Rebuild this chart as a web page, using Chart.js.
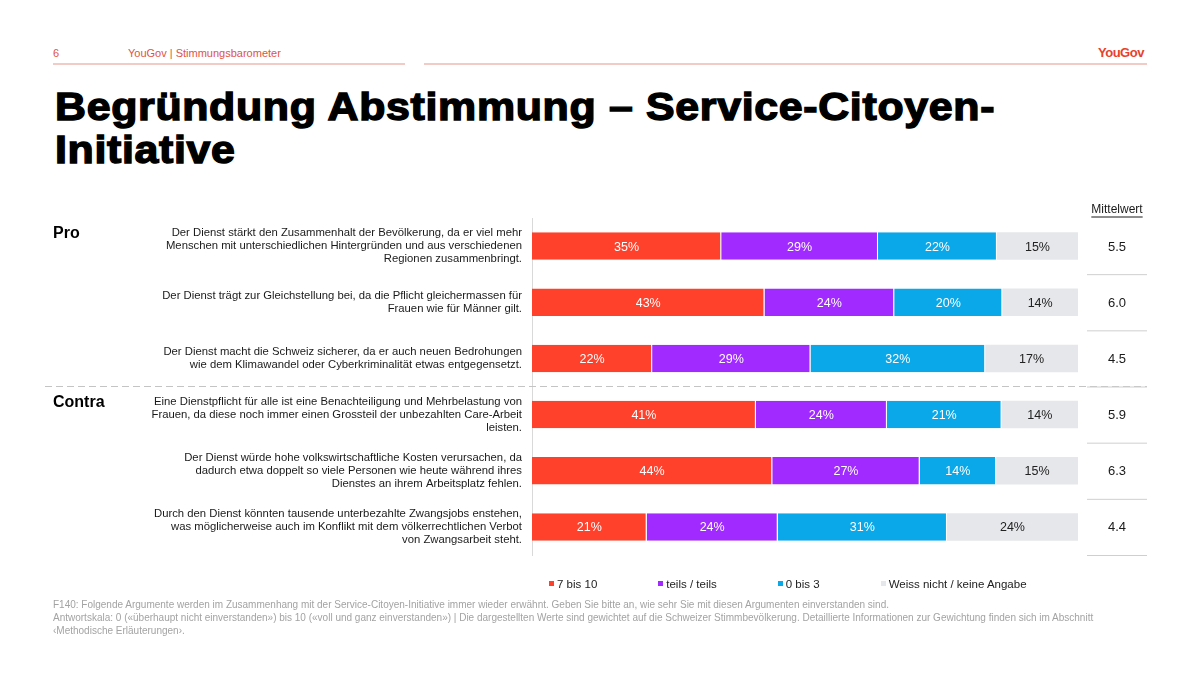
<!DOCTYPE html>
<html>
<head>
<meta charset="utf-8">
<script src="https://cdn.jsdelivr.net/npm/chart.js@4.4.1/dist/chart.umd.min.js"></script>
<style>
  body { margin: 0; width: 1200px; height: 674px; position: relative; overflow: hidden; background: #fff;
         font-family: "Liberation Sans", Arial, sans-serif; color: #1a1a1a; }
  .hdr { position: absolute; top: 47px; font-size: 11px; color: #e0533f; }
  .rule { position: absolute; top: 63px; height: 2px; background: #f2cbc6; }
  .logo { position: absolute; top: 45px; left: 1098px; font-size: 13px; font-weight: bold; color: #e8412c; letter-spacing: -0.5px; }
  h1 { position: absolute; left: 55px; top: 85px; margin: 0; font-size: 39px; line-height: 43px; font-weight: bold; color: #000;
       -webkit-text-stroke: 1.4px #000; letter-spacing: 0.6px; transform: scaleX(1.1); transform-origin: left top; white-space: nowrap; }
  #chartWrap { position: absolute; left: 0; top: 0; width: 1200px; height: 674px; }
  #legend { position: absolute; top: 578px; left: 549px; display: flex; gap: 61px; font-size: 11.5px; color: #222; }
  #legend span.box { display: inline-block; width: 5px; height: 5px; margin-right: 3px; vertical-align: 2px; }
  .foot { position: absolute; left: 53px; top: 598px; font-size: 10px; line-height: 13px; color: #a3a3a3; }
</style>
</head>
<body>
<div class="hdr" style="left:53px">6</div>
<div class="hdr" style="left:128px">YouGov | Stimmungsbarometer</div>
<div class="rule" style="left:53px;width:352px"></div>
<div class="rule" style="left:424px;width:723px"></div>
<div class="logo">YouGov</div>
<h1>Begründung Abstimmung – Service-Citoyen-<br>Initiative</h1>
<div id="chartWrap"><canvas id="chart"></canvas></div>
<div id="legend"></div>
<div class="foot">F140: Folgende Argumente werden im Zusammenhang mit der Service-Citoyen-Initiative immer wieder erwähnt. Geben Sie bitte an, wie sehr Sie mit diesen Argumenten einverstanden sind.<br>Antwortskala: 0 («überhaupt nicht einverstanden») bis 10 («voll und ganz einverstanden») | Die dargestellten Werte sind gewichtet auf die Schweizer Stimmbevölkerung. Detaillierte Informationen zur Gewichtung finden sich im Abschnitt<br>‹Methodische Erläuterungen›.</div>

<script>
const statements = [
    ['Der Dienst stärkt den Zusammenhalt der Bevölkerung, da er viel mehr', 'Menschen mit unterschiedlichen Hintergründen und aus verschiedenen', 'Regionen zusammenbringt.'],
    ['Der Dienst trägt zur Gleichstellung bei, da die Pflicht gleichermassen für', 'Frauen wie für Männer gilt.'],
    ['Der Dienst macht die Schweiz sicherer, da er auch neuen Bedrohungen', 'wie dem Klimawandel oder Cyberkriminalität etwas entgegensetzt.'],
    ['Eine Dienstpflicht für alle ist eine Benachteiligung und Mehrbelastung von', 'Frauen, da diese noch immer einen Grossteil der unbezahlten Care-Arbeit', 'leisten.'],
    ['Der Dienst würde hohe volkswirtschaftliche Kosten verursachen, da', 'dadurch etwa doppelt so viele Personen wie heute während ihres', 'Dienstes an ihrem Arbeitsplatz fehlen.'],
    ['Durch den Dienst könnten tausende unterbezahlte Zwangsjobs enstehen,', 'was möglicherweise auch im Konflikt mit dem völkerrechtlichen Verbot', 'von Zwangsarbeit steht.']
];
const sideLabels = ['Pro', 'Contra'];
const sideStarts = [0, 3];

const seriesNames = ['7 bis 10', 'teils / teils', '0 bis 3', 'Weiss nicht / keine Angabe'];
const agree = [35, 43, 22, 41, 44, 21];
const partly = [29, 24, 29, 24, 27, 24];
const disagree = [22, 20, 32, 21, 14, 31];
const dontKnow = [15, 14, 17, 14, 15, 24];
const means = ['5.5', '6.0', '4.5', '5.9', '6.3', '4.4'];

const seriesColors = ['#ff412c', '#a02aff', '#0aa8e8', '#e6e7ea'];
const labelColors = ['#ffffff', '#ffffff', '#ffffff', '#222222'];
const FONT = '"Liberation Sans", Arial, sans-serif';

const series = [agree, partly, disagree, dontKnow];
const rowTotals = agree.map((_, i) => series.reduce((s, arr) => s + arr[i], 0));

const datasets = series.map((arr, k) => ({
    label: seriesNames[k],
    rawValues: arr,
    data: arr.map((v, i) => v / rowTotals[i] * 100),
    backgroundColor: seriesColors[k],
    borderColor: '#ffffff',
    borderWidth: { top: 0, bottom: 0, left: 0, right: k < 3 ? 1 : 0 },
    borderSkipped: false,
    categoryPercentage: 1,
    barPercentage: 0.49
}));

const overlay = {
    id: 'overlay',
    afterDatasetsDraw(chart) {
        const ctx = chart.ctx;
        const y = chart.scales.y;
        const area = chart.chartArea;
        const step = y.getPixelForValue(1) - y.getPixelForValue(0);
        ctx.save();

        // segment labels
        ctx.font = '12.5px ' + FONT;
        ctx.textAlign = 'center';
        ctx.textBaseline = 'middle';
        chart.data.datasets.forEach((ds, di) => {
            chart.getDatasetMeta(di).data.forEach((bar, i) => {
                ctx.fillStyle = labelColors[di];
                ctx.fillText(ds.rawValues[i] + '%', (bar.x + bar.base) / 2, bar.y + 1);
            });
        });

        // dashed divider between pro and contra
        const divY = y.getPixelForValue(sideStarts[1]) - step / 2;
        ctx.strokeStyle = '#c4c4c4';
        ctx.lineWidth = 1;
        ctx.setLineDash([7, 4]);
        ctx.beginPath();
        ctx.moveTo(45, divY);
        ctx.lineTo(area.right + 69, divY);
        ctx.stroke();
        ctx.setLineDash([]);

        // mean column
        const mx = area.right + 39;
        ctx.fillStyle = '#1a1a1a';
        ctx.font = '12px ' + FONT;
        ctx.fillText('Mittelwert', mx, area.top - 8);
        const w = ctx.measureText('Mittelwert').width;
        ctx.strokeStyle = '#1a1a1a';
        ctx.beginPath();
        ctx.moveTo(mx - w / 2, area.top - 1);
        ctx.lineTo(mx + w / 2, area.top - 1);
        ctx.stroke();

        ctx.font = '13px ' + FONT;
        means.forEach((m, i) => {
            const py = y.getPixelForValue(i);
            ctx.fillStyle = '#1a1a1a';
            ctx.fillText(m, mx, py + 1);
            ctx.strokeStyle = '#cfcfcf';
            ctx.beginPath();
            ctx.moveTo(area.right + 9, py + step / 2 + 0.5);
            ctx.lineTo(area.right + 69, py + step / 2 + 0.5);
            ctx.stroke();
        });

        // Pro / Contra
        ctx.font = 'bold 16px ' + FONT;
        ctx.textAlign = 'left';
        ctx.fillStyle = '#000';
        sideLabels.forEach((s, k) => {
            ctx.fillText(s, 53, y.getPixelForValue(sideStarts[k]) - 12);
        });
        ctx.restore();
    }
};

new Chart(document.getElementById('chart'), {
    type: 'bar',
    data: { labels: statements, datasets: datasets },
    options: {
        indexAxis: 'y',
        responsive: true,
        maintainAspectRatio: false,
        animation: false,
        layout: { padding: { top: 218, right: 122, bottom: 119, left: 0 } },
        scales: {
            x: { stacked: true, min: 0, max: 100, display: false },
            y: {
                stacked: true,
                grid: { display: false, drawTicks: false },
                border: { display: true, color: '#d9d9d9' },
                afterFit: (scale) => { scale.width = 532; },
                ticks: {
                    padding: 10,
                    color: '#1a1a1a',
                    font: { family: FONT, size: 11.3, lineHeight: 1.16 },
                    autoSkip: false
                }
            }
        },
        plugins: { legend: { display: false }, tooltip: { enabled: false } }
    },
    plugins: [overlay]
});

const legendEl = document.getElementById('legend');
seriesNames.forEach((name, k) => {
    const item = document.createElement('div');
    item.innerHTML = '<span class="box" style="background:' + seriesColors[k] + '"></span>' + name;
    legendEl.appendChild(item);
});
</script>
</body>
</html>
